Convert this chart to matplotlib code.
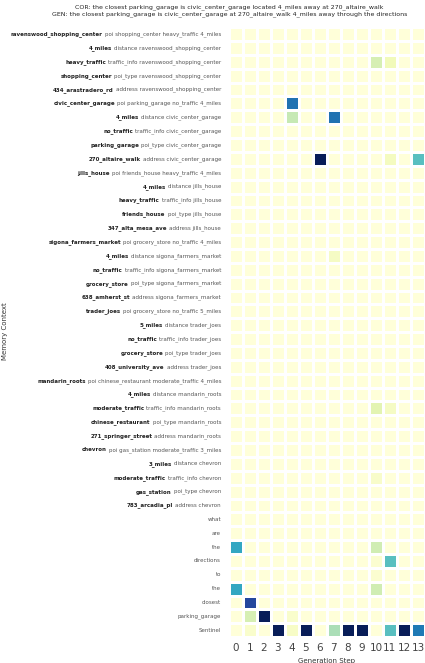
import matplotlib
matplotlib.use("Agg")
import matplotlib.pyplot as plt
import numpy as np
import seaborn as sns

# memory context rows: (bold key, rest of the triple)
row_keys = [
    "ravenswood_shopping_center", "4_miles", "heavy_traffic", "shopping_center", "434_arastradero_rd",
    "civic_center_garage", "4_miles", "no_traffic", "parking_garage", "270_altaire_walk",
    "jills_house", "4_miles", "heavy_traffic", "friends_house", "347_alta_mesa_ave",
    "sigona_farmers_market", "4_miles", "no_traffic", "grocery_store", "638_amherst_st",
    "trader_joes", "5_miles", "no_traffic", "grocery_store", "408_university_ave",
    "mandarin_roots", "4_miles", "moderate_traffic", "chinese_restaurant", "271_springer_street",
    "chevron", "3_miles", "moderate_traffic", "gas_station", "783_arcadia_pl",
]
row_rests = [
    "poi shopping_center heavy_traffic 4_miles", "distance ravenswood_shopping_center",
    "traffic_info ravenswood_shopping_center", "poi_type ravenswood_shopping_center",
    "address ravenswood_shopping_center",
    "poi parking_garage no_traffic 4_miles", "distance civic_center_garage",
    "traffic_info civic_center_garage", "poi_type civic_center_garage", "address civic_center_garage",
    "poi friends_house heavy_traffic 4_miles", "distance jills_house", "traffic_info jills_house",
    "poi_type jills_house", "address jills_house",
    "poi grocery_store no_traffic 4_miles", "distance sigona_farmers_market",
    "traffic_info sigona_farmers_market", "poi_type sigona_farmers_market", "address sigona_farmers_market",
    "poi grocery_store no_traffic 5_miles", "distance trader_joes", "traffic_info trader_joes",
    "poi_type trader_joes", "address trader_joes",
    "poi chinese_restaurant moderate_traffic 4_miles", "distance mandarin_roots",
    "traffic_info mandarin_roots", "poi_type mandarin_roots", "address mandarin_roots",
    "poi gas_station moderate_traffic 3_miles", "distance chevron", "traffic_info chevron",
    "poi_type chevron", "address chevron",
]
query_words = ["what", "are", "the", "directions", "to", "the", "closest", "parking_garage", "Sentinel"]
steps = list(range(14))

# non-background attention cells (row index, step, weight)
cell_rows = [2, 2, 5, 6, 6, 9, 9, 9, 16, 27, 27, 32,
             37, 37, 38, 38, 39, 40, 40, 41, 42, 42, 42,
             43, 43, 43, 43, 43, 43, 43, 43, 43, 43]
cell_cols = [10, 11, 4, 4, 7, 6, 11, 13, 7, 10, 11, 10,
             0, 10, 10, 11, 10, 0, 10, 1, 1, 2, 4,
             1, 3, 4, 5, 7, 8, 9, 11, 12, 13]
cell_vals = [0.2, 0.1, 0.7, 0.25, 0.7, 1.0, 0.08, 0.45, 0.07, 0.16, 0.07, 0.05,
             0.55, 0.22, 0.03, 0.45, 0.03, 0.55, 0.22, 0.82, 0.2, 1.0, 0.04,
             0.04, 1.0, 0.06, 1.0, 0.3, 1.0, 1.0, 0.45, 1.0, 0.68]

n_rows = len(row_keys) + len(query_words)
attn = np.zeros((n_rows, len(steps)))
attn[cell_rows, cell_cols] = cell_vals

fig = plt.figure(figsize=(4.25, 6.63), dpi=100)
ax = fig.add_axes([0.538, 0.039, 0.462, 0.92])
sns.heatmap(attn, ax=ax, cmap="YlGnBu", vmin=0, vmax=1, cbar=False,
            linewidths=1.0, linecolor="white", xticklabels=steps, yticklabels=False)

ax.tick_params(axis="x", length=0, labelsize=7.5, colors="#444444", pad=4, rotation=0)
ax.tick_params(axis="y", length=0)
ax.set_xlabel("Generation Step", fontsize=5, color="#333333")
ax.xaxis.set_label_coords(0.5, -0.035)

# y labels: bold key + normal rest
fs = 4.0
for i in range(n_rows):
    if i < len(row_keys):
        rest = ax.annotate(row_rests[i], xy=(0, i + 0.5), xycoords=("axes fraction", "data"),
                           xytext=(-5.5, 0), textcoords="offset points",
                           ha="right", va="center", fontsize=fs, color="#555555")
        ax.annotate(row_keys[i], xy=(0, 0.5), xycoords=rest, xytext=(-1.4, 0),
                    textcoords="offset points", ha="right", va="center",
                    fontsize=fs, fontweight="bold", color="#222222")
    else:
        ax.annotate(query_words[i - len(row_keys)], xy=(0, i + 0.5),
                    xycoords=("axes fraction", "data"), xytext=(-5.5, 0),
                    textcoords="offset points", ha="right", va="center",
                    fontsize=fs, color="#555555")

fig.text(0.012, 0.5, "Memory Context", rotation=90, ha="center", va="center",
         fontsize=5, color="#333333")
fig.text(0.54, 0.993,
         "COR: the closest parking_garage is civic_center_garage located 4_miles away at 270_altaire_walk\n"
         "GEN: the closest parking_garage is civic_center_garage at 270_altaire_walk 4_miles away through the directions",
         ha="center", va="top", fontsize=4.5, color="#222222", linespacing=1.3)

fig.savefig("out.png", dpi=100)
